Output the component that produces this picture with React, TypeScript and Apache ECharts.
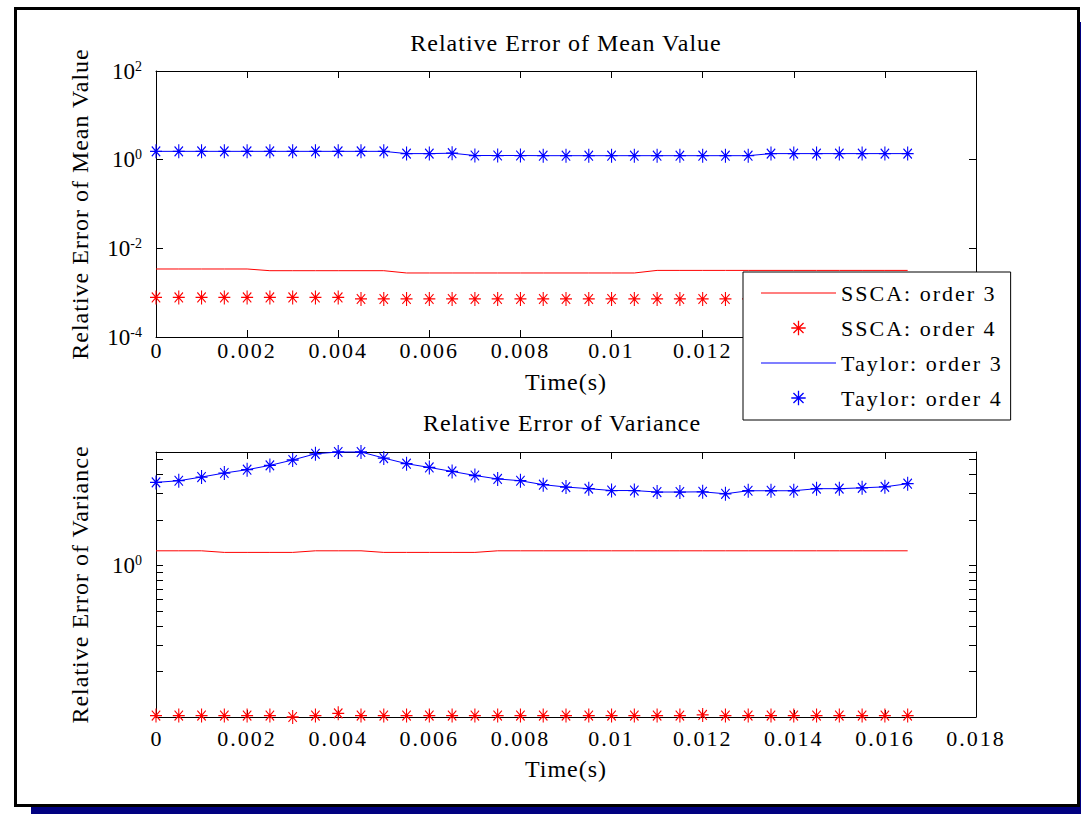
import React, { useEffect, useRef } from "react";
import * as echarts from "echarts";

// ---------- data ----------
const timeS = [
  0, 0.0005, 0.001, 0.0015, 0.002, 0.0025, 0.003, 0.0035, 0.004, 0.0045, 0.005, 0.0055,
  0.006, 0.0065, 0.007, 0.0075, 0.008, 0.0085, 0.009, 0.0095, 0.01, 0.0105, 0.011, 0.0115,
  0.012, 0.0125, 0.013, 0.0135, 0.014, 0.0145, 0.015, 0.0155, 0.016, 0.0165,
];

// Relative error of mean value
const meanSscaOrder3 = [
  0.00342, 0.00342, 0.00342, 0.00342, 0.00342, 0.00313, 0.00313, 0.00313, 0.00313, 0.00313, 0.00313, 0.00278,
  0.00278, 0.00278, 0.00278, 0.00278, 0.00278, 0.00278, 0.00278, 0.00278, 0.00278, 0.00278, 0.00318, 0.00318,
  0.00318, 0.00318, 0.00318, 0.00318, 0.00318, 0.00318, 0.00318, 0.00318, 0.00318, 0.00318,
];
const meanSscaOrder4 = [
  0.00078, 0.00078, 0.00078, 0.00078, 0.00078, 0.00078, 0.00078, 0.00078, 0.00078, 0.00072, 0.00072, 0.00072,
  0.00072, 0.00072, 0.00072, 0.00072, 0.00072, 0.00072, 0.00072, 0.00072, 0.00072, 0.00072, 0.00072, 0.00072,
  0.00072, 0.00072, 0.00072, 0.00072, 0.00072, 0.00072, 0.00072, 0.00072, 0.00072, 0.00072,
];
const meanTaylorOrder3 = [
  1.54, 1.54, 1.54, 1.54, 1.54, 1.54, 1.54, 1.54, 1.54, 1.54, 1.54, 1.37,
  1.37, 1.4, 1.24, 1.24, 1.24, 1.23, 1.23, 1.23, 1.23, 1.23, 1.23, 1.23,
  1.23, 1.23, 1.23, 1.37, 1.37, 1.37, 1.37, 1.37, 1.37, 1.37,
];
const meanTaylorOrder4 = [
  1.54, 1.54, 1.54, 1.54, 1.54, 1.54, 1.54, 1.54, 1.54, 1.54, 1.54, 1.37,
  1.37, 1.4, 1.24, 1.24, 1.24, 1.23, 1.23, 1.23, 1.23, 1.23, 1.23, 1.23,
  1.23, 1.23, 1.23, 1.37, 1.37, 1.37, 1.37, 1.37, 1.37, 1.37,
];

// Relative error of variance
const varSscaOrder3 = [
  1.25, 1.25, 1.25, 1.22, 1.22, 1.22, 1.22, 1.25, 1.25, 1.25, 1.22, 1.22,
  1.22, 1.22, 1.22, 1.25, 1.25, 1.25, 1.25, 1.25, 1.25, 1.25, 1.25, 1.25,
  1.25, 1.25, 1.25, 1.25, 1.25, 1.25, 1.25, 1.25, 1.25, 1.25,
];
const varSscaOrder4 = [
  0.1025, 0.1025, 0.1025, 0.1025, 0.1025, 0.1025, 0.1003, 0.1025, 0.106, 0.1025, 0.1025, 0.1025,
  0.1025, 0.1025, 0.1025, 0.1025, 0.1025, 0.1025, 0.1025, 0.1025, 0.1025, 0.1025, 0.1025, 0.1025,
  0.1035, 0.1025, 0.1025, 0.1025, 0.1025, 0.1025, 0.1025, 0.1025, 0.1025, 0.1025,
];
const varTaylorOrder3 = [
  3.53, 3.62, 3.83, 4.07, 4.28, 4.57, 4.96, 5.45, 5.6, 5.6, 5.11, 4.69,
  4.43, 4.17, 3.92, 3.72, 3.62, 3.41, 3.29, 3.21, 3.12, 3.12, 3.05, 3.05,
  3.06, 2.97, 3.11, 3.11, 3.11, 3.21, 3.21, 3.25, 3.3, 3.46,
];
const varTaylorOrder4 = [
  3.53, 3.62, 3.83, 4.07, 4.28, 4.57, 4.96, 5.45, 5.6, 5.6, 5.11, 4.69,
  4.43, 4.17, 3.92, 3.72, 3.62, 3.41, 3.29, 3.21, 3.12, 3.12, 3.05, 3.05,
  3.06, 2.97, 3.11, 3.11, 3.11, 3.21, 3.21, 3.25, 3.3, 3.46,
];

// axes / ticks
const timeMin = 0;
const timeMax = 0.018;
const timeStep = 0.002;
// labels of the upper plot that are not hidden behind the legend
const meanTimeLabels = [0, 0.002, 0.004, 0.006, 0.008, 0.01, 0.012];
const meanExpMin = -4;
const meanExpMax = 2;
const meanExpStep = 2;
const varMajorTicks = [1];
const varMinorTicks = [0.2, 0.3, 0.4, 0.5, 0.6, 0.7, 0.8, 0.9, 2, 3, 4, 5];

const legendNames = ["SSCA: order 3", "SSCA: order 4", "Taylor: order 3", "Taylor: order 4"];
const titleMean = "Relative Error of Mean Value";
const titleVar = "Relative Error of Variance";
const yNameMean = "Relative Error of Mean Value";
const yNameVar = "Relative Error of Variance";
const xName = "Time(s)";

// ---------- styles ----------
const FONT = "Liberation Serif";
const RED = "#ff0000";
const BLUE = "#0000ff";
const ASTERISK =
  "path://M-0.09,-1L0.09,-1L0.09,1L-0.09,1ZM-1,-0.09L1,-0.09L1,0.09L-1,0.09Z" +
  "M-0.636,-0.764L0.764,0.636L0.636,0.764L-0.764,-0.636Z" +
  "M-0.764,0.636L0.636,-0.764L0.764,-0.636L-0.636,0.764Z";
const LINE_ICON = "path://M0,0L75,0L75,1L0,1Z";

const toLog = (vals: number[]) => timeS.map((t, i) => [t, Math.log10(vals[i])]);

const fmtTime = (v: number) => String(parseFloat(v.toFixed(4)));
const fmtPow = (v: number) => `{b|10}{s|${Math.round(v)}}`;
const powRich = {
  b: { fontFamily: FONT, fontSize: 23, color: "#000", lineHeight: 24, padding: [8, 0, 8, 0] },
  s: { fontFamily: FONT, fontSize: 14, color: "#000", lineHeight: 14, verticalAlign: "top" },
};

function xAxis(
  grid: number,
  position: string,
  showLabel: boolean,
  margin: number,
  nameGap: number,
  labelValues?: number[]
) {
  return {
    type: "value",
    gridIndex: grid,
    position,
    min: timeMin,
    max: timeMax,
    interval: timeStep,
    name: showLabel ? xName : "",
    nameLocation: "middle",
    nameGap,
    nameTextStyle: { fontFamily: FONT, fontSize: 24, color: "#000" },
    axisLine: { show: true, onZero: false, lineStyle: { color: "#000", width: 1 } },
    axisTick: { show: true, inside: true, length: 7, lineStyle: { color: "#000", width: 1 } },
    axisLabel: {
      show: showLabel,
      margin,
      color: "#000",
      fontFamily: FONT,
      fontSize: 22,
      formatter: fmtTime,
      ...(labelValues ? { customValues: labelValues } : {}),
    },
    splitLine: { show: false },
  };
}

function seriesFor(grid: number, name: string, vals: number[], color: string, markers: boolean) {
  return {
    name,
    type: "line",
    xAxisIndex: grid * 2,
    yAxisIndex: grid * 2,
    data: toLog(vals),
    clip: false,
    silent: true,
    emphasis: { disabled: true },
    symbol: markers ? ASTERISK : "none",
    showSymbol: markers,
    symbolSize: [12, 14],
    itemStyle: { color, borderWidth: 0 },
    lineStyle: markers ? { color, width: 0, opacity: 0 } : { color, width: 1 },
    z: markers ? 3 : 2,
  };
}

export default function App() {
  const ref = useRef<HTMLDivElement>(null);

  useEffect(() => {
    const el = ref.current;
    if (!el) return;
    const chart = echarts.init(el, null, { renderer: "svg" });

    const varAll = [...varSscaOrder3, ...varSscaOrder4, ...varTaylorOrder3, ...varTaylorOrder4];
    const varLo = Math.log10(Math.min(...varAll));
    const varHi = Math.log10(Math.max(...varAll));
    const varTickVals = [...varMinorTicks, ...varMajorTicks].map((v) => Math.log10(v));
    const varLabelVals = varMajorTicks.map((v) => Math.log10(v));

    const meanY = (position: string, showLabel: boolean) => ({
      type: "value",
      gridIndex: 0,
      position,
      min: meanExpMin,
      max: meanExpMax,
      interval: meanExpStep,
      name: showLabel ? yNameMean : "",
      nameLocation: "middle",
      nameGap: 64,
      nameTextStyle: { fontFamily: FONT, fontSize: 24, color: "#000" },
      axisLine: { show: true, onZero: false, lineStyle: { color: "#000", width: 1 } },
      axisTick: { show: true, inside: true, length: 7, lineStyle: { color: "#000", width: 1 } },
      axisLabel: { show: showLabel, margin: 14, align: "right", formatter: fmtPow, rich: powRich },
      splitLine: { show: false },
    });

    const varY = (position: string, showLabel: boolean) => ({
      type: "value",
      gridIndex: 1,
      position,
      min: varLo,
      max: varHi,
      name: showLabel ? yNameVar : "",
      nameLocation: "middle",
      nameGap: 64,
      nameTextStyle: { fontFamily: FONT, fontSize: 24, color: "#000" },
      axisLine: { show: true, onZero: false, lineStyle: { color: "#000", width: 1 } },
      axisTick: {
        show: true,
        inside: true,
        length: 7,
        customValues: varTickVals,
        lineStyle: { color: "#000", width: 1 },
      },
      axisLabel: {
        show: showLabel,
        margin: 14,
        align: "right",
        customValues: varLabelVals,
        formatter: fmtPow,
        rich: powRich,
      },
      splitLine: { show: false },
    });

    const legendData = legendNames.map((name, i) =>
      i % 2 === 0 ? { name, icon: LINE_ICON, itemStyle: { color: i < 2 ? RED : BLUE } } : { name }
    );

    const option = {
      animation: false,
      backgroundColor: "#ffffff",
      textStyle: { fontFamily: FONT },
      graphic: [
        { type: "rect", z: -10, shape: { x: 31, y: 22, width: 1050, height: 792 }, style: { fill: "#000080" } },
        {
          type: "rect",
          z: -9,
          shape: { x: 15.5, y: 8.5, width: 1063, height: 797 },
          style: { fill: "#ffffff", stroke: "#000000", lineWidth: 3 },
        },
      ],
      title: [
        {
          text: titleMean,
          left: 561,
          top: 26,
          textAlign: "center",
          textStyle: { fontFamily: FONT, fontSize: 24, fontWeight: "normal", color: "#000" },
        },
        {
          text: titleVar,
          left: 557,
          top: 406,
          textAlign: "center",
          textStyle: { fontFamily: FONT, fontSize: 24, fontWeight: "normal", color: "#000" },
        },
      ],
      grid: [
        { left: 156, top: 71, width: 820, height: 266, containLabel: false },
        { left: 156, top: 452, width: 820, height: 265, containLabel: false },
      ],
      xAxis: [
        xAxis(0, "bottom", true, 2, 33, meanTimeLabels),
        xAxis(0, "top", false, 2, 0),
        xAxis(1, "bottom", true, 10, 40),
        xAxis(1, "top", false, 2, 0),
      ],
      yAxis: [meanY("left", true), meanY("right", false), varY("left", true), varY("right", false)],
      legend: {
        orient: "vertical",
        left: 743,
        top: 272,
        data: legendData,
        itemWidth: 75,
        itemHeight: 18,
        itemGap: 13,
        padding: [10, 38, 11, 18],
        backgroundColor: "#ffffff",
        borderColor: "#000000",
        borderWidth: 1,
        borderRadius: 0,
        selectedMode: false,
        itemStyle: { borderWidth: 0 },
        textStyle: { fontFamily: FONT, fontSize: 22, color: "#000", lineHeight: 22 },
        z: 10,
      },
      series: [
        seriesFor(0, legendNames[0], meanSscaOrder3, RED, false),
        seriesFor(0, legendNames[1], meanSscaOrder4, RED, true),
        seriesFor(0, legendNames[2], meanTaylorOrder3, BLUE, false),
        seriesFor(0, legendNames[3], meanTaylorOrder4, BLUE, true),
        seriesFor(1, legendNames[0], varSscaOrder3, RED, false),
        seriesFor(1, legendNames[1], varSscaOrder4, RED, true),
        seriesFor(1, legendNames[2], varTaylorOrder3, BLUE, false),
        seriesFor(1, legendNames[3], varTaylorOrder4, BLUE, true),
      ],
    };

    chart.setOption(option as any);

    // MATLAB-style export uses loosely spaced glyphs
    const wide = new Set([titleMean, titleVar, yNameMean, yNameVar, xName]);
    el.querySelectorAll("text").forEach((t) => {
      const s = t.textContent || "";
      if (s.length < 3) return;
      t.setAttribute("letter-spacing", wide.has(s) ? "1" : "2");
    });

    return () => chart.dispose();
  }, []);

  return (
    <div
      ref={ref}
      style={{ position: "absolute", left: 0, top: 0, width: 1081, height: 814, background: "#fff" }}
    />
  );
}
